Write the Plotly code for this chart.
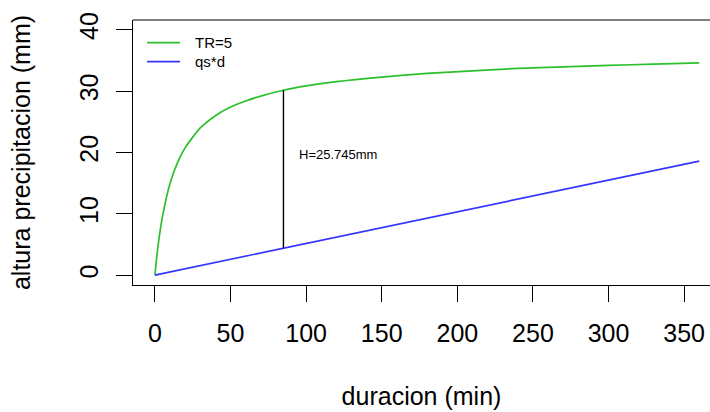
import plotly.graph_objects as go

# data
duracion = [0, 1, 2, 3, 5, 10, 15, 20, 30, 40, 50, 60, 70, 85, 100, 120, 150, 180, 210, 240, 270, 300, 330, 360]
tr5 = [0, 2.5, 4.65, 6.5, 9.6, 15.0, 18.4, 20.8, 24.0, 26.0, 27.4, 28.4, 29.2, 30.15, 30.85,
       31.55, 32.3, 32.9, 33.3, 33.7, 33.95, 34.2, 34.4, 34.6]
qs_d_x = [0, 360]
qs_d_y = [0, 18.6]
d_crit = 85
h_low = 4.40
h_high = 30.15
label_H = "H=25.745mm"
legend_names = ["TR=5", "qs*d"]
xticks = [0, 50, 100, 150, 200, 250, 300, 350]
yticks = [0, 10, 20, 30, 40]

FONT = "Liberation Sans, Arial, sans-serif"
GREEN = "#2dc02d"
BLUE = "#3535ff"

fig = go.Figure()
fig.add_trace(go.Scatter(x=duracion, y=tr5, mode="lines", name=legend_names[0],
                         line=dict(color=GREEN, width=1.7, shape="spline", smoothing=0.6)))
fig.add_trace(go.Scatter(x=qs_d_x, y=qs_d_y, mode="lines", name=legend_names[1],
                         line=dict(color=BLUE, width=1.7)))
fig.add_trace(go.Scatter(x=[d_crit, d_crit], y=[h_low, h_high], mode="lines",
                         line=dict(color="black", width=1.4)))

fig.add_annotation(x=94, y=19.7, text=label_H, showarrow=False, xanchor="left",
                   yanchor="middle", font=dict(family=FONT, size=13, color="black"))

# legend (drawn without a box, like the reference)
for name, col, yp in zip(legend_names, [GREEN, BLUE], [0.9143, 0.8426]):
    fig.add_shape(type="line", xref="paper", yref="paper", x0=0.0243, x1=0.0815,
                  y0=yp, y1=yp, line=dict(color=col, width=1.8))
    fig.add_annotation(xref="paper", yref="paper", x=0.104, y=yp, text=name,
                       showarrow=False, xanchor="left", yanchor="middle",
                       font=dict(family=FONT, size=15, color="black"))

# top border of the box
fig.add_shape(type="line", xref="paper", yref="paper", x0=0, x1=1, y0=1, y1=1,
              line=dict(color="black", width=1.2))

fig.update_layout(
    width=710, height=412,
    margin=dict(l=133, r=0, t=20, b=127),
    paper_bgcolor="white", plot_bgcolor="white",
    font=dict(family=FONT, size=25, color="black"),
    showlegend=False,
    xaxis=dict(range=[-14.5, 367.1], tickvals=xticks, ticks="outside", ticklen=16,
               tickwidth=1.2, tickcolor="black", showline=True, linecolor="black",
               linewidth=1.2, showgrid=False, zeroline=False, automargin=False,
               ticklabelstandoff=10,
               tickfont=dict(size=25), title=dict(text="duracion (min)", standoff=41,
                                                  font=dict(size=25))),
    yaxis=dict(range=[-1.6, 41.6], tickvals=yticks, ticks="outside", ticklen=16,
               tickwidth=1.2, tickcolor="black", showline=True, linecolor="black",
               linewidth=1.2, showgrid=False, zeroline=False, tickangle=-90,
               automargin=False, ticklabelstandoff=8,
               tickfont=dict(size=25),
               title=dict(text="altura precipitacion (mm)", standoff=37,
                          font=dict(size=25))),
)

fig.write_html("out.html", config={"displayModeBar": False},
               post_script="document.body.style.margin='0';document.body.style.overflow='hidden';")
